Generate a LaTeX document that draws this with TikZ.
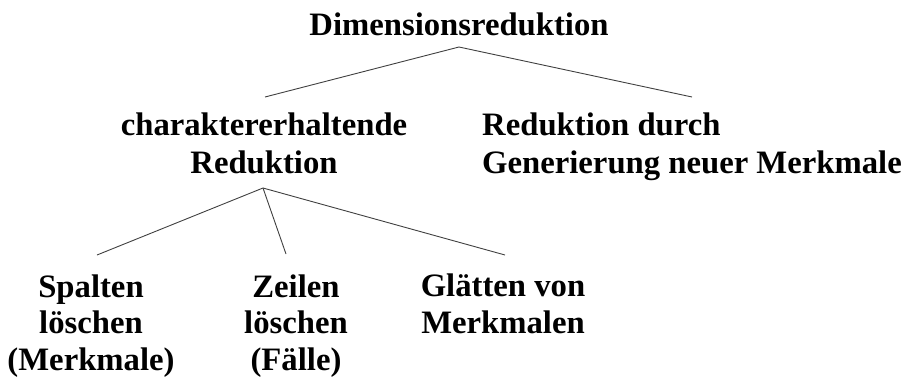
\documentclass[tikz,border=0pt]{standalone}
\usepackage{fontspec}
\setmainfont{Liberation Serif}
\begin{document}
\begin{tikzpicture}[x=1pt,y=-1pt,
  label/.style={inner sep=0pt,font=\bfseries\fontsize{32.7}{38}\selectfont},
  lowlabel/.style={label,font=\bfseries\fontsize{32.7}{36.5}\selectfont},
  branch/.style={draw=black!75,line width=0.9pt}]
  \useasboundingbox (0,0) rectangle (905,380);

  % labels (base anchor sits on the last line of each label)
  \node[label,anchor=base] (root) at (459,35) {Dimensionsreduktion};
  \node[label,anchor=base,align=center] (keep) at (264,173) {charaktererhaltende\\Reduktion};
  \node[label,anchor=base west,align=left] (gen) at (482,173) {Reduktion durch\\Generierung neuer Merkmale};
  \node[lowlabel,anchor=base,align=center] (cols) at (91,370) {Spalten\\löschen\\(Merkmale)};
  \node[lowlabel,anchor=base,align=center] (rows) at (296,370) {Zeilen\\löschen\\(Fälle)};
  \node[lowlabel,anchor=base,align=center] (smooth) at (503,333) {Glätten von\\Merkmalen};

  % joints and branch ends
  \coordinate (rootjoin) at (459,47);
  \coordinate (keeptop) at (265,97);
  \coordinate (gentop) at (692,97);
  \coordinate (keepjoin) at (263,188);
  \coordinate (colstop) at (97,255);
  \coordinate (rowstop) at (286,254);
  \coordinate (smoothtop) at (505,255);

  % tree branches
  \draw[branch] (keeptop) -- (rootjoin) -- (gentop);
  \draw[branch] (keepjoin) -- (colstop);
  \draw[branch] (keepjoin) -- (rowstop);
  \draw[branch] (keepjoin) -- (smoothtop);
\end{tikzpicture}
\end{document}
